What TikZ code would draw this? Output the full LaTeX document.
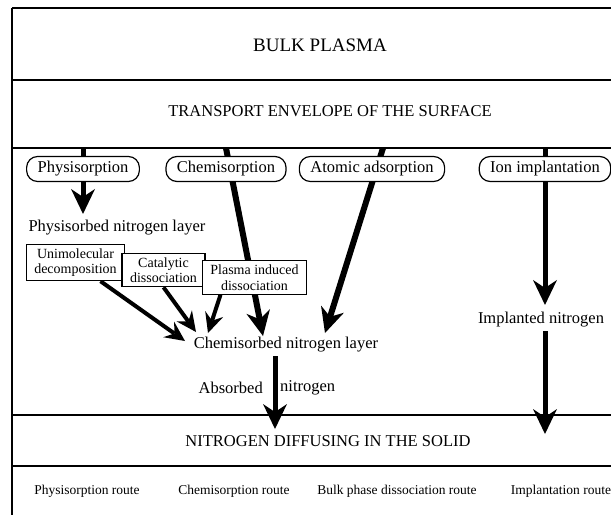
\documentclass[tikz,border=0pt]{standalone}
\usepackage{fontspec}
\setmainfont{Liberation Serif}
\usetikzlibrary{arrows.meta,backgrounds}

\tikzset{
  bandtext/.style={font=\fontsize{16.5}{19}\selectfont},
  routetext/.style={font=\fontsize{13.5}{16}\selectfont},
  layertext/.style={font=\fontsize{16.5}{19}\selectfont},
  process/.style={draw, line width=1.2pt, rounded corners=11pt, fill=white,
    minimum height=25pt, inner xsep=11pt, inner ysep=3pt, font=\fontsize{16.5}{19}\selectfont},
  mechbox/.style={draw, line width=1.2pt, fill=white, align=center,
    inner xsep=8pt, inner ysep=4pt, font=\fontsize{14}{15.5}\selectfont},
  bigarrow/.style={line width=5pt, -{Stealth[length=25pt,width=24pt,inset=8pt,line width=0pt]}},
  smallarrow/.style={line width=4pt, -{Stealth[length=20pt,width=19pt,inset=7pt,line width=0pt]}},
}

\begin{document}
\begin{tikzpicture}[x=1pt,y=-1pt]
        \useasboundingbox (0,0) rectangle (611,515);

        % layer boundaries
        \foreach \y in {8,80,148,415,466}
        \draw[line width=1.2pt] (12,\y) -- (611,\y);
        \draw[line width=1.2pt] (12,8) -- (12,515);
        \coordinate (surf) at (12,148);

        \node[font=\fontsize{19}{22}\selectfont] (bulk) at (320,45) {BULK PLASMA};
        \node[bandtext] (trans) at (330,111) {TRANSPORT ENVELOPE OF THE SURFACE};
        \node[bandtext] (diff) at (328,441) {NITROGEN DIFFUSING IN THE SOLID};

        % adsorption processes
        \node[process] (phys) at (83,169) {Physisorption};
        \node[process] (chem) at (226,169) {Chemisorption};
        \node[process] (atom) at (372,169) {Atomic adsorption};
        \node[process] (ion) at (545,169) {Ion implantation};

        \node[layertext] (physl) at (117,228) {Physisorbed nitrogen layer};
        \node[mechbox] (uni) at (75.5,262.5) {Unimolecular\\decomposition};
        \node[mechbox] (cat) at (163.5,270) {Catalytic\\dissociation};
        \node[mechbox] (plas) at (254.5,277.5) {Plasma induced\\dissociation};

        \node[layertext] (chml) at (286,345) {Chemisorbed nitrogen layer};
        \node[layertext] (impl) at (541,320) {Implanted nitrogen};
        \node[layertext, anchor=east, inner sep=0pt] (absl) at (263,388) {Absorbed};
        \node[layertext, anchor=west, inner sep=0pt] (absr) at (280,388) {nitrogen};

        % routes
        \node[routetext] (rphys) at (87,491) {Physisorption route};
        \node[routetext] (rchem) at (234,491) {Chemisorption route};
        \node[routetext] (rbulk) at (397,491) {Bulk phase dissociation route};
        \node[routetext] (rimpl) at (561,491) {Implantation route};

        \coordinate (chemTip) at (263,336);
        \coordinate (atomTop) at (383,148);
        \coordinate (atomTip) at (325,333);
        \coordinate (implTip) at (545,434);
        \coordinate (absTip) at (275,429);
        \coordinate (uniTip) at (185,341);
        \coordinate (catTip) at (196,332);
        \coordinate (plasTip) at (208,333);

        \begin{pgfonlayer}{background}
        \draw[line width=5pt] (phys |- surf) -- (phys.center);
        \draw[bigarrow] (phys.south) -- ([yshift=3pt]phys.south |- physl.north);
        \draw[bigarrow, line width=6pt] (chem |- surf) -- (chemTip);
        \draw[bigarrow, line width=6pt] (atomTop) -- (atomTip);
        \draw[bigarrow] (ion |- surf) -- ([yshift=4pt]ion |- impl.north);
        \draw[bigarrow] (ion |- impl.south) -- (implTip);
        \draw[bigarrow] (absTip |- chml.south) -- (absTip);

        \draw[smallarrow] ([xshift=25pt]uni.south) -- (uniTip);
        \draw[smallarrow] (cat.south) -- (catTip);
        \draw[smallarrow] ([xshift=-34pt]plas.south) -- (plasTip);
        \end{pgfonlayer}

    \end{tikzpicture}
\end{document}
